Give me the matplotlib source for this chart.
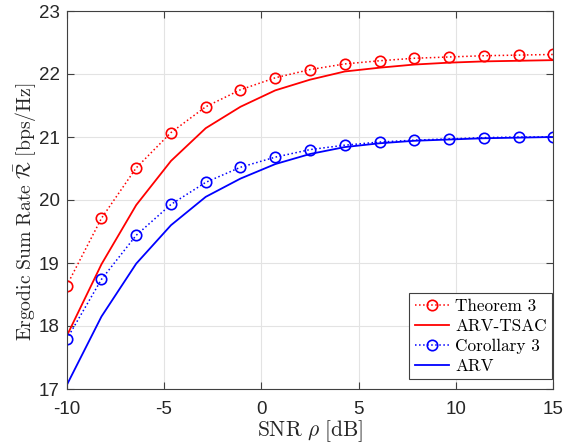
import numpy as np
import matplotlib
matplotlib.use("Agg")
import matplotlib.pyplot as plt

plt.rcParams['mathtext.fontset'] = 'cm'
plt.rcParams['font.family'] = ['Liberation Sans', 'DejaVu Sans']

# SNR grid (dB)
snr_db = np.linspace(-10, 15, 15)

# Ergodic sum rate [bps/Hz]
theorem3 = [18.64, 19.71, 20.51, 21.07, 21.48, 21.75, 21.94, 22.07,
            22.16, 22.21, 22.25, 22.27, 22.29, 22.30, 22.31]
arv_tsac = [17.84, 18.98, 19.92, 20.62, 21.14, 21.48, 21.74, 21.91,
            22.04, 22.10, 22.15, 22.18, 22.20, 22.21, 22.22]
corollary3 = [17.79, 18.74, 19.44, 19.93, 20.28, 20.52, 20.68, 20.80,
              20.87, 20.92, 20.95, 20.97, 20.99, 21.00, 21.00]
arv = [17.06, 18.15, 18.99, 19.60, 20.05, 20.34, 20.57, 20.73,
       20.84, 20.90, 20.94, 20.96, 20.98, 20.99, 21.00]

series_labels = ['Theorem 3', 'ARV-TSAC', 'Corollary 3', 'ARV']
x_ticks = [-10, -5, 0, 5, 10, 15]
y_ticks = [17, 18, 19, 20, 21, 22, 23]

fig = plt.figure(figsize=(5.64, 4.45), dpi=100)
ax = fig.add_axes([66.7 / 564, 1 - 389 / 445, (553.3 - 66.7) / 564, (389 - 11) / 445])

red = '#ff0000'
blue = '#0000ff'
marker_style = dict(marker='o', markersize=7.5, markerfacecolor='none', markeredgewidth=1.2)

ax.plot(snr_db, theorem3, linestyle=':', color=red, lw=1.1, label=series_labels[0], **marker_style)
ax.plot(snr_db, arv_tsac, linestyle='-', color=red, lw=1.3, label=series_labels[1])
ax.plot(snr_db, corollary3, linestyle=':', color=blue, lw=1.1, label=series_labels[2], **marker_style)
ax.plot(snr_db, arv, linestyle='-', color=blue, lw=1.3, label=series_labels[3])

ax.set_xlim(-10, 15)
ax.set_ylim(17, 23)
ax.set_xticks(x_ticks)
ax.set_xticklabels([str(t) for t in x_ticks])
ax.set_yticks(y_ticks)
ax.set_yticklabels([str(t) for t in y_ticks])

ax.grid(True, color='#e3e3e3', lw=0.8)
ax.set_axisbelow(True)
for s in ax.spines.values():
    s.set_color('#404040')
    s.set_linewidth(0.8)
ax.tick_params(direction='in', length=5, width=0.8, colors='#404040',
               labelcolor='#262626', labelsize=13.5, top=True, right=True)
ax.tick_params(axis='x', pad=9)
ax.tick_params(axis='y', pad=5)

ax.set_xlabel(r'$\mathrm{SNR}\ \rho\ \mathrm{[dB]}$', fontsize=15.5, color='#262626', labelpad=0)
ax.set_ylabel(r'$\mathrm{Ergodic\ Sum\ Rate}\ \bar{\mathcal{R}}\ \mathrm{[bps/Hz]}$',
              fontsize=14.2, color='#262626')
ax.yaxis.set_label_coords(-0.056, 0.47)

leg = ax.legend(loc='lower right', bbox_to_anchor=(0.997, 0.026), borderaxespad=0,
                prop={'family': 'cmr10', 'size': 12.4}, frameon=True, fancybox=False,
                framealpha=1, edgecolor='#404040', handlelength=2.0, handletextpad=0.35,
                labelspacing=0.28, borderpad=0.3)
leg.get_frame().set_linewidth(0.8)

fig.savefig('out.png', dpi=100)
